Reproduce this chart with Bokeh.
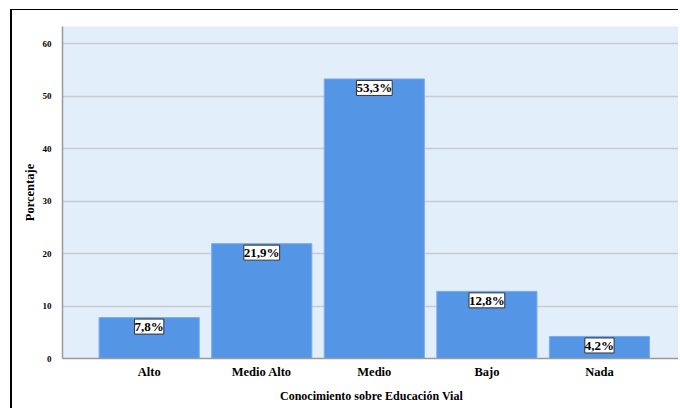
from bokeh.plotting import figure
from bokeh.models import ColumnDataSource, LabelSet, FixedTicker, Range1d
from bokeh.embed import file_html
from bokeh.resources import INLINE

categories = ["Alto", "Medio Alto", "Medio", "Bajo", "Nada"]
porcentajes = [7.8, 21.9, 53.3, 12.8, 4.2]
y_ticks = [0, 10, 20, 30, 40, 50, 60]

FONT = "Liberation Serif"

xs = list(range(len(categories)))
labels = [f"{v:.1f}%".replace(".", ",") for v in porcentajes]
src = ColumnDataSource(dict(x=xs, top=porcentajes, label=labels))

p = figure(width=668, height=399, output_backend="svg", toolbar_location=None,
           x_range=Range1d(-0.77, 4.72), y_range=Range1d(0, 63.3),
           min_border_left=50, min_border_right=0, min_border_top=16, min_border_bottom=51,
           background_fill_color="#E2EEFA", border_fill_color="white",
           styles={"margin-top": "9px", "margin-left": "10px",
                   "border-top": "1px solid #000", "border-left": "2px solid #000"})
p.outline_line_color = None

p.vbar(x="x", top="top", width=0.89, source=src, fill_color="#5595E5",
       line_color="#7aaeee", line_width=1)

p.add_layout(LabelSet(x="x", y="top", text="label", source=src, text_align="center",
                      text_baseline="top", y_offset=-1.5, text_font=FONT,
                      text_font_style="bold", text_font_size="13px", text_color="black",
                      background_fill_color="white", border_line_color="#333333",
                      border_line_width=1))

p.xgrid.grid_line_color = None
p.ygrid.grid_line_color = "#C8CCD2"
p.ygrid.grid_line_width = 1.5
p.ygrid.ticker = FixedTicker(ticks=y_ticks)

p.xaxis.ticker = FixedTicker(ticks=xs)
p.xaxis.major_label_overrides = {i: c for i, c in zip(xs, categories)}
p.yaxis.ticker = FixedTicker(ticks=y_ticks)

for ax in (p.xaxis[0], p.yaxis[0]):
    ax.axis_line_color = "#9A9A9A"
    ax.axis_line_width = 1.5
    ax.major_tick_line_color = None
    ax.minor_tick_line_color = None
    ax.major_label_text_font = FONT
    ax.major_label_text_font_style = "bold"
    ax.axis_label_text_font = FONT
    ax.axis_label_text_font_style = "bold"
    ax.axis_label_text_color = "black"
    ax.major_label_text_color = "black"

p.xaxis.major_label_text_font_size = "12.5px"
p.xaxis.major_label_standoff = 0
p.xaxis.axis_label = "Conocimiento sobre Educación Vial"
p.xaxis.axis_label_text_font_size = "12px"
p.xaxis.axis_label_standoff = 7

p.yaxis.major_label_text_font_size = "9px"
p.yaxis.major_label_standoff = 5
p.yaxis.axis_label = "Porcentaje"
p.yaxis.axis_label_text_font_size = "12.5px"
p.yaxis.axis_label_standoff = 3

open("out.html", "w").write(file_html(p, INLINE))
